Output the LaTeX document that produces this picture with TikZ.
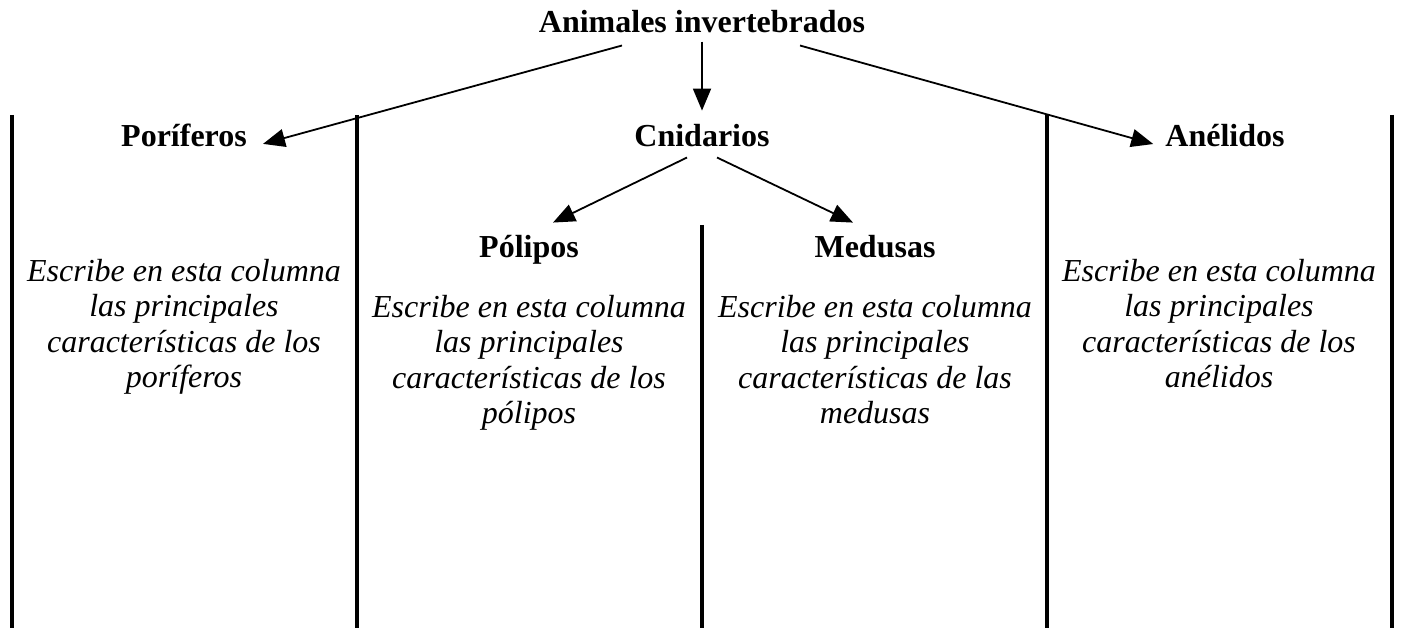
\documentclass[tikz,border=0pt]{standalone}
\usepackage{fontspec}
\setmainfont{Liberation Serif}
\usetikzlibrary{arrows.meta}
\begin{document}
\begin{tikzpicture}[x=1pt,y=-1pt,
  head/.style={font=\fontsize{32}{36}\selectfont\bfseries, inner sep=0pt, anchor=base},
  para/.style={font=\fontsize{32}{35.5}\selectfont\itshape, align=center, inner sep=0pt, anchor=north},
  arr/.style={line width=1.8pt, -{Triangle[length=22pt,width=18pt]}},
  col/.style={line width=3.5pt}]
\useasboundingbox (0,0) rectangle (1404,628);
% headings
\node[head] (title) at (702,33) {Animales invertebrados};
\node[head] (por) at (184,147) {Poríferos};
\node[head] (cni) at (702,147) {Cnidarios};
\node[head] (ane) at (1225,147) {Anélidos};
\node[head] (pol) at (529,257) {Pólipos};
\node[head] (med) at (875,257) {Medusas};
% column lines
\coordinate (c1t) at (12,115);   \coordinate (c1b) at (12,628);
\coordinate (c2t) at (357,115);  \coordinate (c2b) at (357,628);
\coordinate (c3t) at (702,225);  \coordinate (c3b) at (702,628);
\coordinate (c4t) at (1047,115); \coordinate (c4b) at (1047,628);
\coordinate (c5t) at (1392,115); \coordinate (c5b) at (1392,628);
\foreach \i in {1,...,5} \draw[col] (c\i t) -- (c\i b);
% paragraphs
\node[para] (ppor) at (184,259) {Escribe en esta columna\\las principales\\características de los\\poríferos};
\node[para] (ppol) at (529,295) {Escribe en esta columna\\las principales\\características de los\\pólipos};
\node[para] (pmed) at (875,295) {Escribe en esta columna\\las principales\\características de las\\medusas};
\node[para] (pane) at (1219,259) {Escribe en esta columna\\las principales\\características de los\\anélidos};
% arrows
\draw[arr] ([xshift=-80pt,yshift=-12pt]title.south) -- ([xshift=16pt,yshift=-8pt]por.east);
\draw[arr] ([yshift=-8pt]title.south) -- ([yshift=14pt]cni.north);
\draw[arr] ([xshift=98pt,yshift=-12pt]title.south) -- ([xshift=-12pt,yshift=-8pt]ane.west);
\draw[arr] ([xshift=-15pt,yshift=-10pt]cni.south) -- ([xshift=24pt,yshift=12pt]pol.north);
\draw[arr] ([xshift=15pt,yshift=-10pt]cni.south) -- ([xshift=-22pt,yshift=12pt]med.north);
\end{tikzpicture}
\end{document}
